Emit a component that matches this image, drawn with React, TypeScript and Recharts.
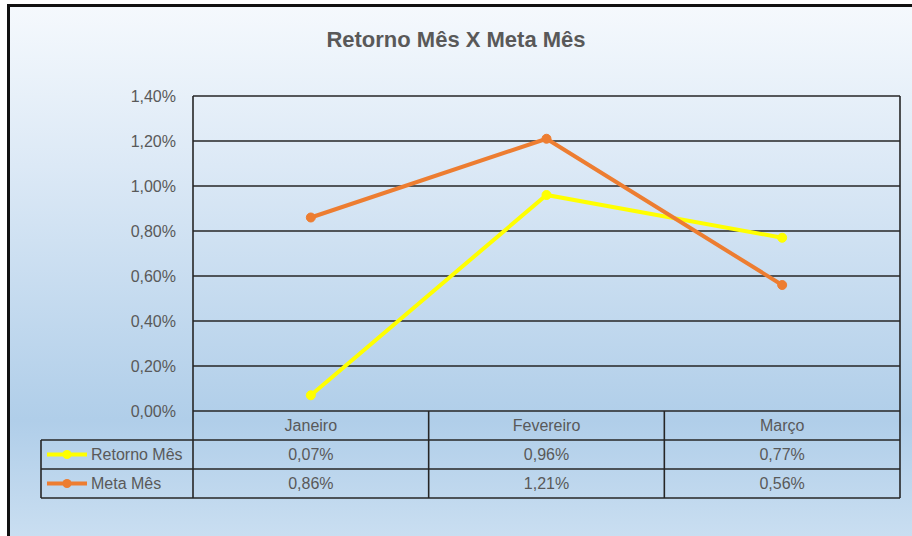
import { LineChart, Line, XAxis, YAxis, CartesianGrid } from 'recharts';

const months = ['Janeiro', 'Fevereiro', 'Março'];
const retornoMes = [0.07, 0.96, 0.77];
const metaMes = [0.86, 1.21, 0.56];
const yTicks = [0, 0.2, 0.4, 0.6, 0.8, 1.0, 1.2, 1.4];

const series = [
  { key: 'retorno', name: 'Retorno Mês', values: retornoMes, color: '#FFFF00' },
  { key: 'meta', name: 'Meta Mês', values: metaMes, color: '#ED7D31' },
];

const data = months.map((m, i) => ({ month: m, retorno: retornoMes[i], meta: metaMes[i] }));

const W = 912;
const H = 536;
const plot = { left: 193, top: 96, right: 900, bottom: 411 };
const rowH = 29;
const legendLeft = 41;
const font = '"Liberation Sans", Arial, sans-serif';
const textColor = '#595959';
const lineColor = '#262626';

const pct = (v: number) => v.toFixed(2).replace('.', ',') + '%';

function DataTable() {
  const colW = (plot.right - plot.left) / months.length;
  const rowTop = plot.bottom;
  const tableBottom = rowTop + rowH * (series.length + 1);
  return (
    <svg width={W} height={H} style={{ position: 'absolute', left: 0, top: 0, pointerEvents: 'none' }}>
      {/* vertical lines */}
      {Array.from({ length: months.length + 1 }, (_, i) => (
        <line key={'v' + i} x1={plot.left + i * colW} x2={plot.left + i * colW} y1={rowTop} y2={tableBottom} stroke={lineColor} strokeWidth={1.6} />
      ))}
      <line x1={legendLeft} x2={legendLeft} y1={rowTop + rowH} y2={tableBottom} stroke={lineColor} strokeWidth={1.6} />
      {/* horizontal lines */}
      {series.map((_, i) => (
        <line key={'h' + i} x1={legendLeft} x2={plot.right} y1={rowTop + rowH * (i + 1)} y2={rowTop + rowH * (i + 1)} stroke={lineColor} strokeWidth={1.6} />
      ))}
      <line x1={legendLeft} x2={plot.right} y1={tableBottom} y2={tableBottom} stroke={lineColor} strokeWidth={1.6} />
      {/* header */}
      {months.map((m, i) => (
        <text key={m} x={plot.left + (i + 0.5) * colW} y={rowTop + rowH / 2} textAnchor="middle" dominantBaseline="central" fontSize={16} fill={textColor} fontFamily={font}>
          {m}
        </text>
      ))}
      {series.map((s, r) => {
        const cy = rowTop + rowH * (r + 1.5);
        return (
          <g key={s.key}>
            <line x1={legendLeft + 6} x2={legendLeft + 46} y1={cy} y2={cy} stroke={s.color} strokeWidth={4} />
            <circle cx={legendLeft + 26} cy={cy} r={4.5} fill={s.color} />
            <text x={legendLeft + 50} y={cy} dominantBaseline="central" fontSize={16} fill={textColor} fontFamily={font}>
              {s.name}
            </text>
            {s.values.map((v, i) => (
              <text key={i} x={plot.left + (i + 0.5) * colW} y={cy} textAnchor="middle" dominantBaseline="central" fontSize={16} fill={textColor} fontFamily={font}>
                {pct(v)}
              </text>
            ))}
          </g>
        );
      })}
    </svg>
  );
}

export default function App() {
  const yAxisWidth = 80;
  return (
    <div style={{ position: 'absolute', left: 0, top: 0, width: W, height: H, background: '#fff', overflow: 'hidden', fontFamily: font }}>
      <div
        style={{
          position: 'absolute',
          left: 7,
          top: 4,
          right: 0,
          bottom: 0,
          borderLeft: '3px solid #111',
          borderTop: '3px solid #111',
          background: 'linear-gradient(to bottom, #f5f9fd 0%, #dce9f6 30%, #b0cee9 78%, #c9def1 100%)',
        }}
      />
      <div style={{ position: 'absolute', left: 0, top: 27, width: W, textAlign: 'center', fontSize: 22, fontWeight: 'bold', color: textColor }}>
        Retorno Mês X Meta Mês
      </div>
      <div style={{ position: 'absolute', left: 0, top: 0 }}>
        <LineChart
          width={W}
          height={H}
          data={data}
          margin={{ top: plot.top, right: W - plot.right, bottom: H - plot.bottom, left: plot.left - yAxisWidth }}
        >
          <CartesianGrid
            stroke={lineColor}
            strokeWidth={1.6}
            strokeOpacity={1}
            verticalCoordinatesGenerator={({ offset }: any) => [offset.left + offset.width]}
          />
          <XAxis dataKey="month" scale="band" hide />
          <YAxis
            width={yAxisWidth}
            domain={[0, 1.4]}
            ticks={yTicks}
            tickFormatter={pct}
            tickSize={0}
            tickMargin={17}
            axisLine={{ stroke: lineColor, strokeWidth: 1.6 }}
            tick={{ fontSize: 16, fill: textColor, fontFamily: font }}
          />
          {series.map(s => (
            <Line
              key={s.key}
              type="linear"
              dataKey={s.key}
              name={s.name}
              stroke={s.color}
              strokeWidth={4}
              dot={{ r: 4.5, fill: s.color, stroke: s.color, strokeWidth: 1 }}
              activeDot={false}
              isAnimationActive={false}
            />
          ))}
        </LineChart>
      </div>
      <DataTable />
    </div>
  );
}
